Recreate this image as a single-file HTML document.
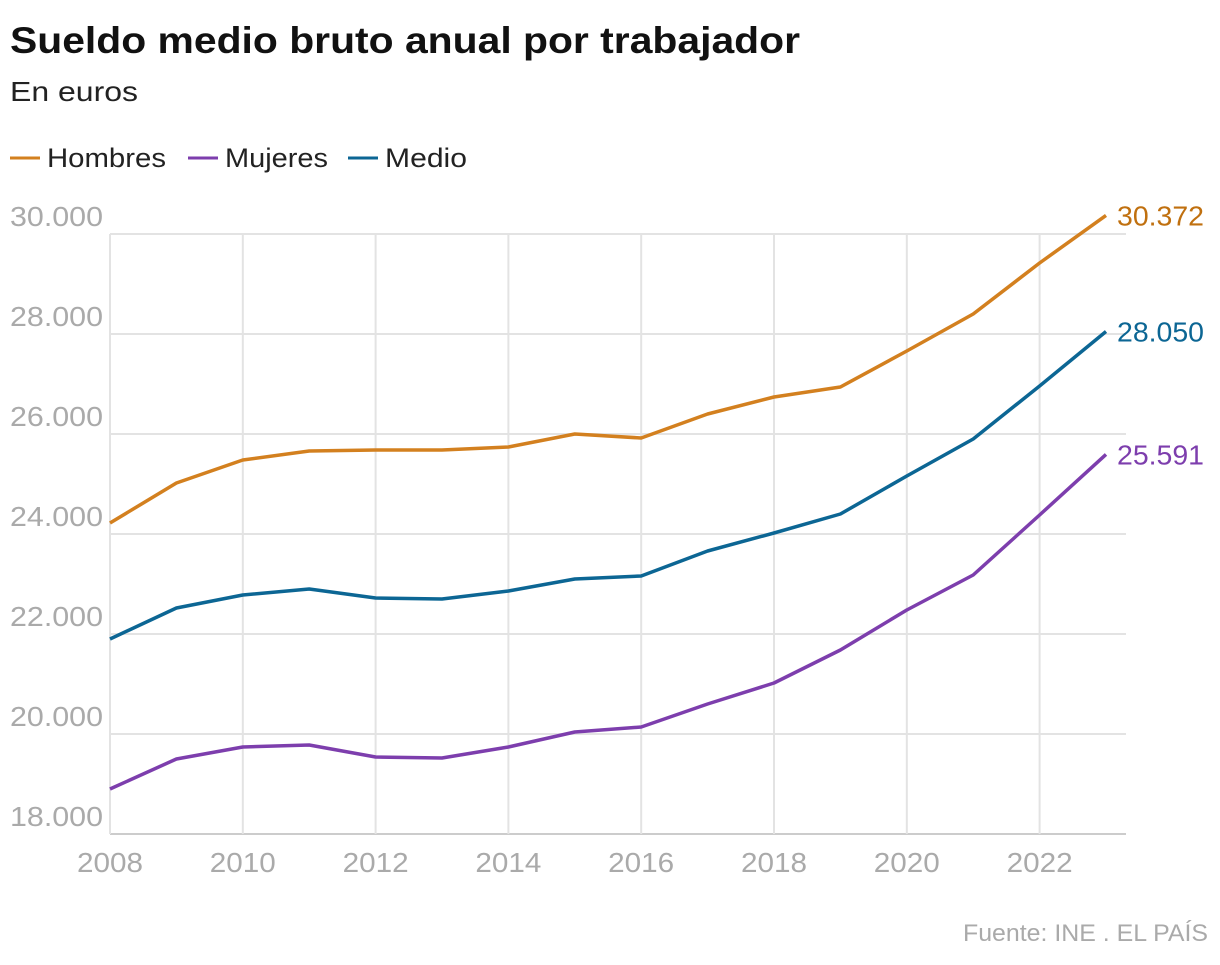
<!DOCTYPE html>
<html><head><meta charset="utf-8"><style>
body{margin:0;background:#fff;width:1220px;height:960px;overflow:hidden;font-family:"Liberation Sans",sans-serif}
</style></head><body>
<svg width="1220" height="960">
<text x="10" y="53" font-size="37" font-weight="bold" fill="#111" textLength="790" lengthAdjust="spacingAndGlyphs">Sueldo medio bruto anual por trabajador</text>
<text x="10" y="101" font-size="28" fill="#222" textLength="128" lengthAdjust="spacingAndGlyphs">En euros</text>
<g>
<line x1="10" x2="40" y1="158" y2="158" stroke="#d3801f" stroke-width="3"/><text x="47" y="167" font-size="27" fill="#222" textLength="119" lengthAdjust="spacingAndGlyphs">Hombres</text>
<line x1="188" x2="218" y1="158" y2="158" stroke="#7d3ead" stroke-width="3"/><text x="225" y="167" font-size="27" fill="#222" textLength="103" lengthAdjust="spacingAndGlyphs">Mujeres</text>
<line x1="348" x2="378" y1="158" y2="158" stroke="#0c6694" stroke-width="3"/><text x="385" y="167" font-size="27" fill="#222" textLength="82" lengthAdjust="spacingAndGlyphs">Medio</text>
</g>
<g id="grid"></g><g id="lines"></g>
<text x="1208" y="941" font-size="24" fill="#aaa" text-anchor="end" textLength="245" lengthAdjust="spacingAndGlyphs">Fuente: INE . EL PAÍS</text>
</svg>
<script>
const years=[2008,2009,2010,2011,2012,2013,2014,2015,2016,2017,2018,2019,2020,2021,2022,2023];
const hombres=[24220,25020,25480,25660,25680,25680,25740,26000,25920,26400,26740,26940,27660,28400,29420,30372];
const medio=[21900,22520,22780,22900,22720,22700,22860,23100,23160,23660,24020,24400,25160,25900,26960,28050];
const mujeres=[18900,19500,19740,19780,19540,19520,19740,20040,20140,20600,21020,21680,22480,23180,24380,25591];
const yTicks=[18000,20000,22000,24000,26000,28000,30000];
const xTicks=[2008,2010,2012,2014,2016,2018,2020,2022];
const NS="http://www.w3.org/2000/svg";
const x=v=>110+(v-2008)*(1106-110)/15;
const y=v=>834-(v-18000)*600/12000;
const fmt=v=>Math.round(v).toLocaleString('en').replace(/,/g,'.');
const grid=document.getElementById('grid'),lines=document.getElementById('lines');
function mk(tag,attrs,parent){const e=document.createElementNS(NS,tag);for(const k in attrs)e.setAttribute(k,attrs[k]);parent.appendChild(e);return e;}
yTicks.forEach(t=>{
 const l=mk('line',{x1:110,x2:1126,y1:y(t),y2:y(t),stroke:t===18000?'#ccc':'#e3e3e3','stroke-width':2},grid);
 
 
 const tx=mk('text',{x:10,y:y(t)-8,'font-size':28,fill:'#aaa',textLength:93,lengthAdjust:'spacingAndGlyphs'},grid);tx.textContent=fmt(t);
 
 
});
xTicks.forEach(t=>{
 const l=mk('line',{x1:x(t),x2:x(t),y1:234,y2:834,stroke:'#e3e3e3','stroke-width':2},grid);
 
 
 const tx=mk('text',{x:x(t)-33,y:872,'font-size':28,fill:'#aaa',textLength:66,lengthAdjust:'spacingAndGlyphs'},grid);tx.textContent=t;
 
 
});
[[hombres,'#d3801f','#c0700f','line-hombres'],[medio,'#0c6694','#0c6694','line-medio'],[mujeres,'#7d3ead','#7d3ead','line-mujeres']].forEach(([d,c,tc,n])=>{
 const p=mk('polyline',{points:d.map((v,i)=>x(years[i])+','+y(v)).join(' '),fill:'none',stroke:c,'stroke-width':3.5,'stroke-linejoin':'round'},lines);
 
 
 const last=d[d.length-1];
 const tx=mk('text',{x:1117,y:y(last)+10,'font-size':28,fill:tc,textLength:87,lengthAdjust:'spacingAndGlyphs'},lines);tx.textContent=fmt(last);
 
 
});
</script>
</body></html>
